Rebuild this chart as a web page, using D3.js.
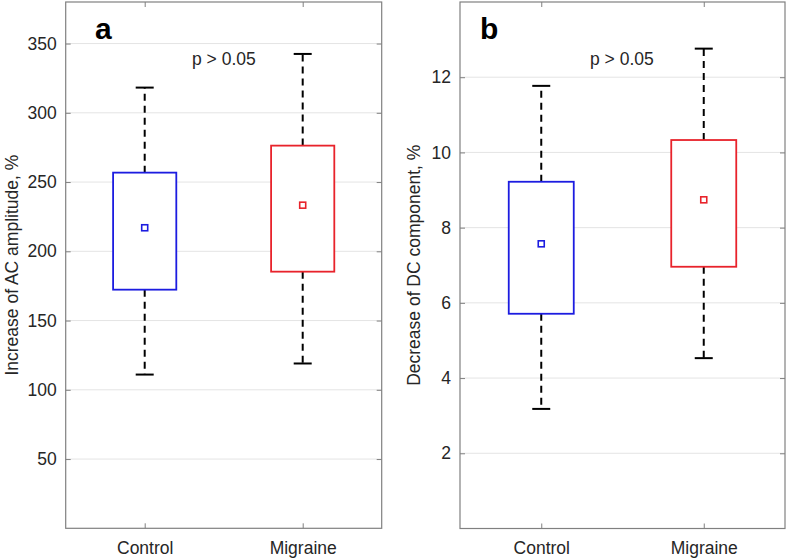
<!DOCTYPE html>
<html lang="en">
<head>
<meta charset="UTF-8">
<title>Boxplots</title>
<script src="https://cdn.jsdelivr.net/npm/d3@7"></script>
<style>
  body { margin: 0; background: #fff; }
  svg { display: block; font-family: "Liberation Sans", Arial, sans-serif; }
</style>
</head>
<body>
<svg id="chart" width="787" height="558"></svg>
<script>
    // groups shown on both panels
    var groups = ["Control", "Migraine"]
    var colors = ["#1c1ce0", "#e8232b"]

    // panel a: increase of AC amplitude, %
    var acLow = [111, 119]
    var acQ1 = [172.3, 185.3]
    var acMean = [217, 233.3]
    var acQ3 = [256.8, 276.3]
    var acHigh = [318.2, 342.5]
    var acTicks = [50, 100, 150, 200, 250, 300, 350]

    // panel b: decrease of DC component, %
    var dcLow = [3.18, 4.53]
    var dcQ1 = [5.71, 6.96]
    var dcMean = [7.57, 8.74]
    var dcQ3 = [9.22, 10.33]
    var dcHigh = [11.77, 12.76]
    var dcTicks = [2, 4, 6, 8, 10, 12]

    var svg = d3.select("#chart")

    function panel(opts) {
        var g = svg.append("g")
        var x = d3.scaleLinear().domain([0.5, 2.5]).range([opts.left, opts.right])
        var y = d3.scaleLinear().domain(opts.domain).range([opts.bottom, opts.top])

        // grid
        g.selectAll(".grid").data(opts.ticks).join("line")
            .attr("x1", opts.left).attr("x2", opts.right)
            .attr("y1", d => y(d)).attr("y2", d => y(d))
            .attr("stroke", "#e4e4e4").attr("stroke-width", 1)

        // axes (inner ticks on all four sides)
        var axL = g.append("g").attr("transform", "translate(" + opts.left + ",0)")
            .call(d3.axisLeft(y).tickValues(opts.ticks).tickSizeInner(-5).tickSizeOuter(0).tickPadding(9))
        var axR = g.append("g").attr("transform", "translate(" + opts.right + ",0)")
            .call(d3.axisRight(y).tickValues(opts.ticks).tickSizeInner(-5).tickSizeOuter(0).tickFormat(""))
        var axB = g.append("g").attr("transform", "translate(0," + opts.bottom + ")")
            .call(d3.axisBottom(x).tickValues([1, 2]).tickSizeInner(-5).tickSizeOuter(0)
                .tickPadding(10).tickFormat((d, i) => groups[i]))
        var axT = g.append("g").attr("transform", "translate(0," + opts.top + ")")
            .call(d3.axisTop(x).tickValues([1, 2]).tickSizeInner(-5).tickSizeOuter(0).tickFormat(""))
        ;[axL, axR, axB, axT].forEach(function (a) {
            a.select(".domain").remove()
            a.selectAll(".tick line").attr("stroke", "#808080")
            a.selectAll("text").attr("fill", "#262626").style("font-size", "17.5px")
                .style("font-family", "'Liberation Sans', Arial, sans-serif")
        })
        axB.selectAll("text").attr("dy", "0.9em")

        g.append("rect")
            .attr("x", opts.left).attr("y", opts.top)
            .attr("width", opts.right - opts.left).attr("height", opts.bottom - opts.top)
            .attr("fill", "none").attr("stroke", "#808080").attr("stroke-width", 1.2)

        var bw = x(1.2) - x(1)
        var cap = 9

        groups.forEach(function (name, i) {
            var cx = x(i + 1)
            // whiskers
            g.append("line")
                .attr("x1", cx).attr("x2", cx)
                .attr("y1", y(opts.q3[i])).attr("y2", y(opts.high[i]))
                .attr("stroke", "#000").attr("stroke-width", 2).attr("stroke-dasharray", "7,5")
            g.append("line")
                .attr("x1", cx).attr("x2", cx)
                .attr("y1", y(opts.q1[i])).attr("y2", y(opts.low[i]))
                .attr("stroke", "#000").attr("stroke-width", 2).attr("stroke-dasharray", "7,5")
            ;[opts.high[i], opts.low[i]].forEach(function (v) {
                g.append("line")
                    .attr("x1", cx - cap).attr("x2", cx + cap)
                    .attr("y1", y(v)).attr("y2", y(v))
                    .attr("stroke", "#000").attr("stroke-width", 2)
            })
            // box
            g.append("rect")
                .attr("x", cx - bw).attr("y", y(opts.q3[i]))
                .attr("width", 2 * bw).attr("height", y(opts.q1[i]) - y(opts.q3[i]))
                .attr("fill", "#fff").attr("stroke", colors[i]).attr("stroke-width", 1.8)
            // mean marker
            g.append("rect")
                .attr("x", cx - 3).attr("y", y(opts.mean[i]) - 3)
                .attr("width", 6).attr("height", 6)
                .attr("fill", "none").attr("stroke", colors[i]).attr("stroke-width", 1.6)
        })

        g.append("text")
            .attr("x", opts.letterX).attr("y", 39)
            .attr("font-size", 30).attr("font-weight", "bold").attr("fill", "#000")
            .text(opts.letter)
        g.append("text")
            .attr("x", opts.pX).attr("y", 65)
            .attr("font-size", 17.5).attr("fill", "#262626")
            .text("p > 0.05")

        g.append("text")
            .attr("transform", "translate(" + opts.labelX + "," + ((opts.top + opts.bottom) / 2) + ") rotate(-90)")
            .attr("text-anchor", "middle")
            .attr("font-size", 17.5).attr("fill", "#262626")
            .text(opts.label)
    }

    panel({
        left: 65.7, right: 381.7, top: 2, bottom: 528.3,
        domain: [0, 380], ticks: acTicks,
        low: acLow, q1: acQ1, mean: acMean, q3: acQ3, high: acHigh,
        letter: "a", letterX: 95, pX: 192, labelX: 18,
        label: "Increase of AC amplitude, %"
    })

    panel({
        left: 460, right: 785, top: 2, bottom: 528.5,
        domain: [0, 14], ticks: dcTicks,
        low: dcLow, q1: dcQ1, mean: dcMean, q3: dcQ3, high: dcHigh,
        letter: "b", letterX: 480, pX: 590, labelX: 420,
        label: "Decrease of DC component, %"
    })
</script>
</body>
</html>
